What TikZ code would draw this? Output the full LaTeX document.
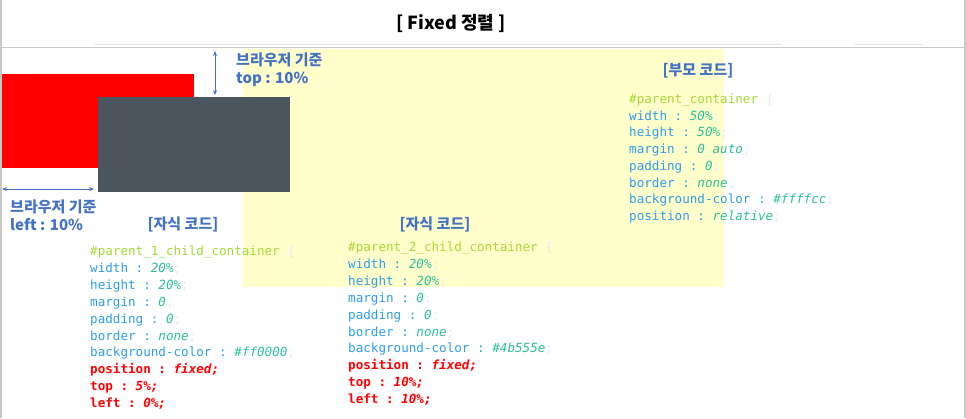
\documentclass[tikz,border=0pt]{standalone}
\usepackage{fontspec}
\setmonofont{DejaVu Sans Mono}
\newfontfamily\kr{Noto Sans CJK KR}
\usetikzlibrary{arrows.meta}
\definecolor{sel}{HTML}{A4D935}
\definecolor{prop}{HTML}{2E9EEA}
\definecolor{val}{HTML}{2DC09A}
\definecolor{semi}{HTML}{E4ECF2}
\definecolor{lblue}{HTML}{4472C4}
\definecolor{pbg}{HTML}{FFFFCC}
\definecolor{dark}{HTML}{4B555E}
\definecolor{frame}{HTML}{C8C8C8}
\newcommand{\sm}{\textcolor{semi}{;}}
\newcommand{\pv}[2]{\textcolor{prop}{#1 :} \textcolor{val}{\itshape #2}\sm}
\newcommand{\rv}[2]{\textcolor{red}{\bfseries #1 : \itshape #2;}}
\begin{document}
\begin{tikzpicture}[x=1pt,y=-1pt,
  code/.style={anchor=base west, inner sep=0pt, font=\fontsize{12.6}{15}\ttfamily},
  lbl/.style={anchor=base west, inner sep=0pt, text=lblue, font=\fontsize{15}{18}\kr\bfseries},
  head/.style={anchor=base, inner sep=0pt, text=lblue, font=\fontsize{15}{18}\kr\bfseries},
  dim/.style={lblue, line width=0.8pt, {Stealth[length=5pt,width=4pt]}-{Stealth[length=5pt,width=4pt]}}]
\useasboundingbox (0,0) rectangle (966,418);
\fill[white] (0,0) rectangle (966,418);
% frame
\draw[frame, line width=1.5pt] (1,0) -- (1,418);
\draw[frame, line width=1.5pt] (965,0) -- (965,418);
\draw[frame, line width=1.6pt] (0,47.5) -- (966,47.5);
\draw[frame!50, line width=0.6pt] (95,44.5) -- (782,44.5);
\draw[frame!50, line width=0.6pt] (855,44.5) -- (923,44.5);
% title
\node[anchor=base, inner sep=0pt, font=\fontsize{18}{22}\kr\bfseries] (title) at (451,29) {[ Fixed 정렬 ]};
% parent box
\fill[pbg] (243,48.5) rectangle (724,287);
% child boxes
\fill[red] (2,74) rectangle (194,168);
\fill[dark] (98,97) rectangle (290,192);
% dimension arrows
\coordinate (ta) at (215,51);
\coordinate (tb) at (215,95);
\draw[dim] (ta) -- (tb);
\coordinate (la) at (2,189);
\coordinate (lb) at (94,189);
\draw[dim] (la) -- (lb);
\node[lbl] (toplbl1) at (236,65.5) {브라우저 기준};
\node[lbl] (toplbl2) at (236,83.5) {top : 10\%};
\node[lbl] (leftlbl1) at (10,212.5) {브라우저 기준};
\node[lbl] (leftlbl2) at (10,230.5) {left : 10\%};
% headings
\node[head] (h1) at (183,229.5) {[자식 코드]};
\node[head] (h2) at (435,229.5) {[자식 코드]};
\node[head] (h3) at (698,75.5) {[부모 코드]};
% code block 1
\node[code] (a1) at (90,255.5) {\textcolor{sel}{\#parent\_1\_child\_container} \textcolor{semi}{\{}};
\node[code] (a2) at (90,272.4) {\pv{width}{20\%}};
\node[code] (a3) at (90,289.3) {\pv{height}{20\%}};
\node[code] (a4) at (90,306.2) {\pv{margin}{0}};
\node[code] (a5) at (90,323.1) {\pv{padding}{0}};
\node[code] (a6) at (90,340) {\pv{border}{none}};
\node[code] (a7) at (90,356.9) {\pv{background-color}{\#ff0000}};
\node[code] (a8) at (90,373.8) {\rv{position}{fixed}};
\node[code] (a9) at (90,390.7) {\rv{top}{5\%}};
\node[code] (a10) at (90,407.6) {\rv{left}{0\%}};
% code block 2
\node[code] (b1) at (348,251.5) {\textcolor{sel}{\#parent\_2\_child\_container} \textcolor{semi}{\{}};
\node[code] (b2) at (348,268.4) {\pv{width}{20\%}};
\node[code] (b3) at (348,285.3) {\pv{height}{20\%}};
\node[code] (b4) at (348,302.2) {\pv{margin}{0}};
\node[code] (b5) at (348,319.1) {\pv{padding}{0}};
\node[code] (b6) at (348,336) {\pv{border}{none}};
\node[code] (b7) at (348,352.9) {\pv{background-color}{\#4b555e}};
\node[code] (b8) at (348,369.8) {\rv{position}{fixed}};
\node[code] (b9) at (348,386.7) {\rv{top}{10\%}};
\node[code] (b10) at (348,403.6) {\rv{left}{10\%}};
% parent block
\node[code] (c1) at (629,103.5) {\textcolor{sel}{\#parent\_container} \textcolor{semi}{\{}};
\node[code] (c2) at (629,120.2) {\pv{width}{50\%}};
\node[code] (c3) at (629,136.9) {\pv{height}{50\%}};
\node[code] (c4) at (629,153.6) {\pv{margin}{0 auto}};
\node[code] (c5) at (629,170.3) {\pv{padding}{0}};
\node[code] (c6) at (629,187) {\pv{border}{none}};
\node[code] (c7) at (629,203.7) {\pv{background-color}{\#ffffcc}};
\node[code] (c8) at (629,220.4) {\pv{position}{relative}};
\end{tikzpicture}
\end{document}
